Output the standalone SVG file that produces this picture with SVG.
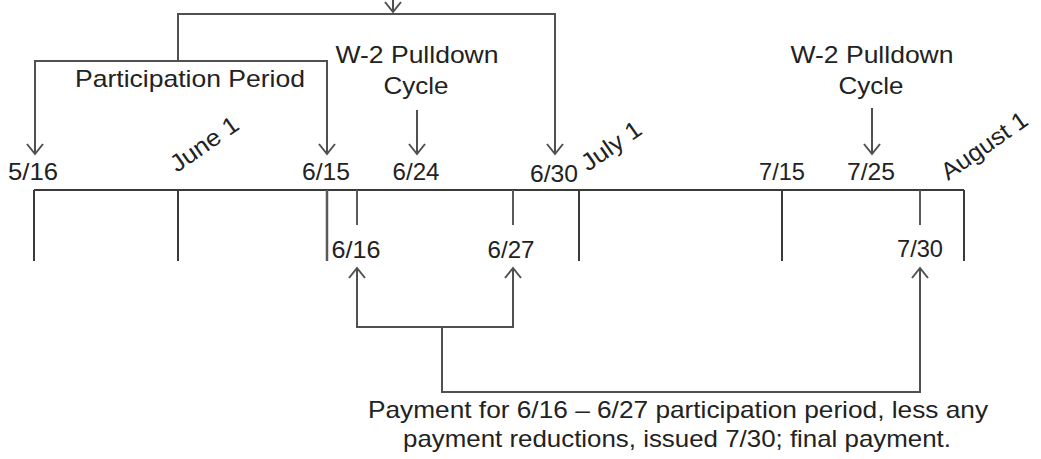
<svg xmlns="http://www.w3.org/2000/svg" width="1041" height="459" viewBox="0 0 1041 459">
  <style>
    .t { font-family: "Liberation Sans", Arial, sans-serif; font-size: 24px; fill: #222; text-anchor: middle; }
    .ts { font-family: "Liberation Sans", Arial, sans-serif; font-size: 24px; fill: #222; text-anchor: start; }
    .ax { stroke: #3a3a3a; stroke-width: 2; fill: none; }
    .tk { stroke: #5a5a5a; stroke-width: 2; fill: none; }
    .cn { stroke: #505050; stroke-width: 2; fill: none; }
  </style>
  <defs>
    <marker id="ah" markerUnits="userSpaceOnUse" markerWidth="24" markerHeight="24" viewBox="-12 -12 24 24" refX="0" refY="0" orient="auto-start-reverse">
      <polyline points="-10,-8 0,0 -10,8" fill="none" stroke="#505050" stroke-width="2"/>
    </marker>
  </defs>
  <rect width="1041" height="459" fill="#ffffff"/>

  <g id="timeline">
    <line class="ax" x1="34" y1="190" x2="964" y2="190"/>
    <line class="ax" x1="34" y1="190" x2="34" y2="261"/>
    <line class="ax" x1="178" y1="190" x2="178" y2="261"/>
    <line class="tk" x1="327" y1="190" x2="327" y2="261" style="stroke-width:2.5"/>
    <line class="tk" x1="357" y1="190" x2="357" y2="225"/>
    <line class="tk" x1="513" y1="190" x2="513" y2="225"/>
    <line class="ax" x1="579" y1="190" x2="579" y2="261"/>
    <line class="ax" x1="782" y1="190" x2="782" y2="261"/>
    <line class="tk" x1="920" y1="190" x2="920" y2="225"/>
    <line class="ax" x1="964" y1="190" x2="964" y2="261"/>
  </g>

  <g id="date-labels">
    <text class="t" x="33" y="180" textLength="50" lengthAdjust="spacingAndGlyphs">5/16</text>
    <text class="t" x="326" y="180" textLength="48" lengthAdjust="spacingAndGlyphs">6/15</text>
    <text class="t" x="416" y="180" textLength="47" lengthAdjust="spacingAndGlyphs">6/24</text>
    <text class="t" x="554" y="182" textLength="48" lengthAdjust="spacingAndGlyphs">6/30</text>
    <text class="t" x="782" y="180" textLength="46" lengthAdjust="spacingAndGlyphs">7/15</text>
    <text class="t" x="871" y="180" textLength="48" lengthAdjust="spacingAndGlyphs">7/25</text>
    <text class="t" x="356" y="258" textLength="49" lengthAdjust="spacingAndGlyphs">6/16</text>
    <text class="t" x="511" y="258" textLength="47" lengthAdjust="spacingAndGlyphs">6/27</text>
    <text class="t" x="920" y="257" textLength="46" lengthAdjust="spacingAndGlyphs">7/30</text>
  </g>

  <g id="month-labels">
    <text class="ts" transform="translate(177,173) rotate(-35)" textLength="78" lengthAdjust="spacingAndGlyphs">June 1</text>
    <text class="ts" transform="translate(588,172) rotate(-35)" textLength="68" lengthAdjust="spacingAndGlyphs">July 1</text>
    <text class="ts" transform="translate(948,181) rotate(-35)" textLength="100" lengthAdjust="spacingAndGlyphs">August 1</text>
  </g>

  <g id="participation-period">
    <text class="t" x="190" y="87" textLength="230" lengthAdjust="spacingAndGlyphs">Participation Period</text>
  </g>

  <g id="w2-cycle-1">
    <text class="t" x="417" y="63" textLength="163" lengthAdjust="spacingAndGlyphs">W-2 Pulldown</text>
    <text class="t" x="416" y="94" textLength="65" lengthAdjust="spacingAndGlyphs">Cycle</text>
  </g>

  <g id="w2-cycle-2">
    <text class="t" x="872" y="63" textLength="163" lengthAdjust="spacingAndGlyphs">W-2 Pulldown</text>
    <text class="t" x="871" y="94" textLength="65" lengthAdjust="spacingAndGlyphs">Cycle</text>
  </g>

  <g id="payment-note">
    <text class="t" x="678" y="418" textLength="620" lengthAdjust="spacingAndGlyphs">Payment for 6/16 – 6/27 participation period, less any</text>
    <text class="t" x="677" y="447" textLength="548" lengthAdjust="spacingAndGlyphs">payment reductions, issued 7/30; final payment.</text>
  </g>

  <g id="connectors">
    <line class="cn" x1="393" y1="-20" x2="393" y2="12" marker-end="url(#ah)"/>
    <polyline class="cn" points="178,61 178,14 555,14 555,154" marker-end="url(#ah)"/>
    <polyline class="cn" points="35,154 35,61 327,61 327,154" marker-start="url(#ah)" marker-end="url(#ah)"/>
    <line class="cn" x1="417" y1="110" x2="417" y2="154" marker-end="url(#ah)"/>
    <line class="cn" x1="872" y1="108" x2="872" y2="154" marker-end="url(#ah)"/>
    <polyline class="cn" points="357,268 357,327 513,327 513,268" marker-start="url(#ah)" marker-end="url(#ah)"/>
    <polyline class="cn" points="442,327 442,392 920,392 920,268" marker-end="url(#ah)"/>
  </g>
</svg>
